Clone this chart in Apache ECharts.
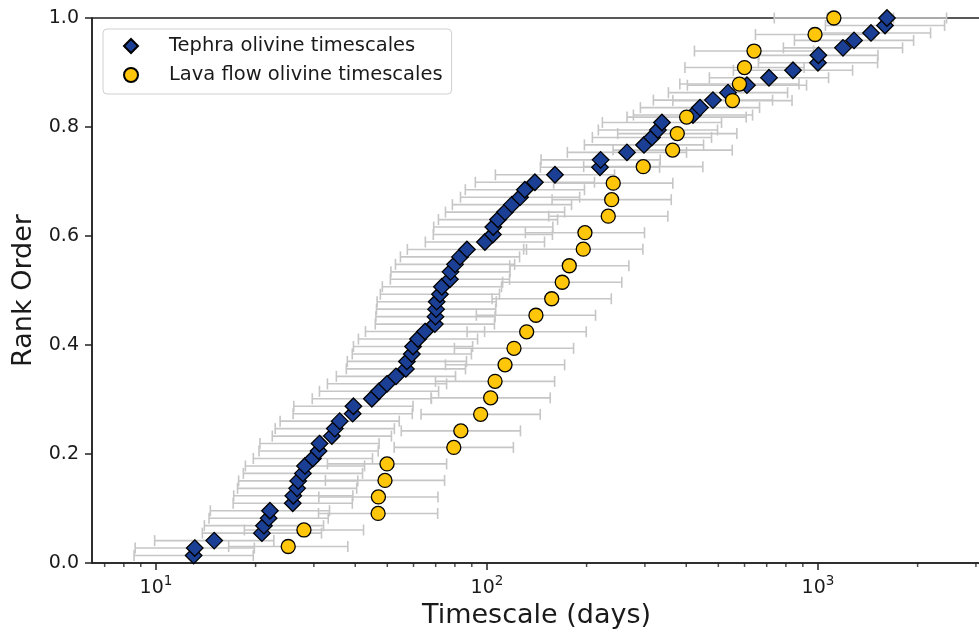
<!DOCTYPE html>
<html>
<head>
    <meta charset="utf-8">
    <title>Olivine timescales</title>
    <script src="https://cdn.jsdelivr.net/npm/echarts@6/dist/echarts.min.js"></script>
</head>
<style>
    html, body {
        margin: 0;
        background: #fff;
    }
    #main {
        width: 979px;
        height: 632px;
    }
</style>
<body>
    <div id="main"></div>
    <script type="text/javascript">
        // timescales (days), sorted
        var tephraDays = [
            13.0, 13.1, 15.0, 20.9, 21.2, 21.9, 22.1, 25.9, 26.0, 26.7,
            26.9, 27.8, 28.2, 29.8, 31.0, 31.2, 34.0, 34.7, 35.9, 39.3,
            39.5, 44.9, 47.2, 49.9, 53.1, 56.9, 57.3, 59.3, 59.8, 61.9,
            65.0, 69.6, 69.9, 70.2, 70.5, 72.1, 73.1, 77.3, 77.6, 80.1,
            82.9, 87.0, 98.6, 104.2, 104.5, 108.0, 113.4, 119.0, 125.9, 130.2,
            139.6, 160.5, 219.5, 220.5, 264.8, 298.1, 315.1, 328.5, 337.8, 419.2,
            440.1, 481.7, 534.8, 610.2, 711.2, 840.5, 1000, 1003, 1190, 1285,
            1446, 1594, 1616
        ];
        var lavaDays = [
            25.1, 28.0, 46.9, 47.0, 49.2, 49.9, 79.4, 83.4, 95.7, 102.6,
            105.8, 113.4, 120.7, 131.8, 140.6, 156.9, 168.8, 177.3, 195.4, 197.7,
            232.5, 238.1, 240.7, 296.6, 363.9, 375.8, 401, 551.6, 579, 599.8,
            641, 979.7, 1117
        ];
        // half width of every error bar, in log10 units
        var tephraErrDex = 0.18;
        var lavaErrDex = 0.18;

        var xTickExp = {10: '1', 100: '2', 1000: '3'};
        var minorTickDays = [7, 8, 9, 20, 30, 40, 50, 60, 70, 80, 90,
            200, 300, 400, 500, 600, 700, 800, 900, 2000, 3000];

        var FONT = 'DejaVu Sans';
        var INK = '#1a1a1a';

        // [days, rank, low, high]
        function rankRows(days, errDex) {
            var f = Math.pow(10, errDex);
            return days.map(function (d, i) {
                return [d, (i + 1) / days.length, d / f, d * f];
            });
        }
        var tephraRows = rankRows(tephraDays, tephraErrDex);
        var lavaRows = rankRows(lavaDays, lavaErrDex);

        function errorBar(params, api) {
            var y = api.value(1);
            var lo = api.coord([api.value(2), y]);
            var hi = api.coord([api.value(3), y]);
            var cap = 5.5;
            var st = {stroke: '#c6c6c6', lineWidth: 1.6};
            return {
                type: 'group',
                children: [
                    {type: 'line', shape: {x1: lo[0], y1: lo[1], x2: hi[0], y2: hi[1]}, style: st},
                    {type: 'line', shape: {x1: lo[0], y1: lo[1] - cap, x2: lo[0], y2: lo[1] + cap}, style: st},
                    {type: 'line', shape: {x1: hi[0], y1: hi[1] - cap, x2: hi[0], y2: hi[1] + cap}, style: st}
                ]
            };
        }

        var option = {
            animation: false,
            backgroundColor: '#fff',
            grid: {
                left: 92, right: -2, top: 18, bottom: 69,
                outerBoundsMode: 'none', containLabel: false,
                show: true, borderColor: '#222', borderWidth: 1.5,
                backgroundColor: 'transparent'
            },
            legend: {
                left: 103, top: 29,
                orient: 'vertical',
                data: ['Tephra olivine timescales', 'Lava flow olivine timescales'],
                itemWidth: 14, itemHeight: 14, itemGap: 7,
                padding: [6, 9, 8, 20],
                backgroundColor: 'rgba(255,255,255,0.85)',
                borderColor: '#d0d0d0', borderWidth: 1, borderRadius: 4,
                textStyle: {fontFamily: FONT, fontSize: 19.5, color: INK, lineHeight: 22, padding: [0, 0, 0, 26]}
            },
            xAxis: {
                type: 'log', logBase: 10,
                min: 6.41, max: 3108,
                name: 'Timescale (days)',
                nameLocation: 'middle', nameGap: 34,
                nameTextStyle: {fontFamily: FONT, fontSize: 27, color: INK},
                axisLine: {lineStyle: {color: '#222', width: 1.5}},
                axisTick: {length: 7, lineStyle: {color: '#222', width: 1.5}},
                axisLabel: {
                    fontFamily: FONT, fontSize: 19, color: INK, margin: 11,
                    showMinLabel: false, showMaxLabel: false,
                    formatter: function (v) {
                        var k = Math.round(v);
                        return xTickExp[k] && Math.abs(v - k) < 1e-6 ? '{b|10}{s|' + xTickExp[k] + '}' : '';
                    },
                    rich: {
                        b: {fontFamily: FONT, fontSize: 19, color: INK, lineHeight: 24, verticalAlign: 'bottom'},
                        s: {fontFamily: FONT, fontSize: 13.5, color: INK, lineHeight: 24, verticalAlign: 'top'}
                    }
                },
                splitLine: {show: false},
                minorTick: {show: false}
            },
            yAxis: {
                type: 'value',
                min: 0, max: 1, interval: 0.2,
                name: 'Rank Order',
                nameLocation: 'middle', nameGap: 52,
                nameTextStyle: {fontFamily: FONT, fontSize: 27, color: INK},
                axisLine: {show: true, lineStyle: {color: '#222', width: 1.5}},
                axisTick: {show: true, length: 7, lineStyle: {color: '#222', width: 1.5}},
                axisLabel: {
                    fontFamily: FONT, fontSize: 19, color: INK, margin: 13,
                    formatter: function (v) { return v.toFixed(1); }
                },
                splitLine: {show: false}
            },
            series: [
                {
                    type: 'custom', name: 'tephraErr',
                    renderItem: errorBar, data: tephraRows,
                    encode: {x: [0, 2, 3], y: 1}, z: 1, silent: true
                },
                {
                    type: 'custom', name: 'lavaErr',
                    renderItem: errorBar, data: lavaRows,
                    encode: {x: [0, 2, 3], y: 1}, z: 1, silent: true
                },
                {
                    type: 'scatter', name: 'Tephra olivine timescales',
                    data: tephraRows.map(function (r) { return [r[0], r[1]]; }),
                    symbol: 'diamond', symbolSize: 16.5,
                    itemStyle: {color: '#1b3f94', borderColor: '#000', borderWidth: 1.3, opacity: 1},
                    z: 3
                },
                {
                    type: 'scatter', name: 'Lava flow olivine timescales',
                    data: lavaRows.map(function (r) { return [r[0], r[1]]; }),
                    symbol: 'circle', symbolSize: 14,
                    itemStyle: {color: '#ffc60a', borderColor: '#000', borderWidth: 1.3, opacity: 1},
                    z: 4
                },
                {
                    // minor ticks of the log axis
                    type: 'scatter', name: 'minorTicks',
                    data: minorTickDays.map(function (d) { return [d, 0]; }),
                    symbol: 'rect', symbolSize: [1.5, 4], symbolOffset: [0, 2],
                    itemStyle: {color: '#222'},
                    clip: false, silent: true, z: 5
                }
            ]
        };

        var myChart = echarts.init(document.getElementById('main'));
        myChart.setOption(option);
    </script>
</body>
</html>
